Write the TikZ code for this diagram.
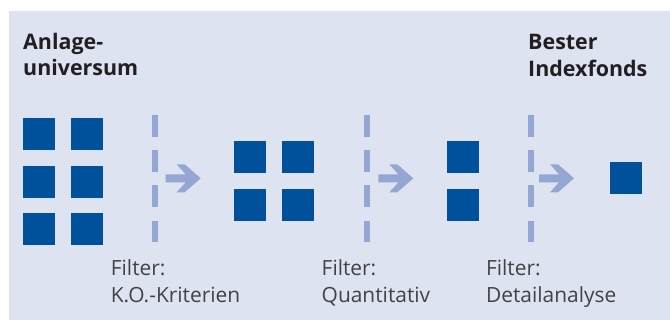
\documentclass[tikz,border=0pt]{standalone}
\usepackage{fontspec}
\setmainfont{Open Sans}
\usetikzlibrary{positioning}
\definecolor{bgblue}{RGB}{222, 227, 241}
\definecolor{boxblue}{RGB}{0, 81, 155}
\definecolor{lightblue}{RGB}{148, 166, 210}
\definecolor{textgray}{RGB}{35, 31, 32}

\tikzset{pics/fwd/.style={code={
  \fill[lightblue] (0,-4) -- (20,-4) -- (11,-14) -- (19,-14) -- (35,0) -- (19,14) -- (11,14) -- (20,4) -- (0,4) -- cycle;}}}

\begin{document}
\begin{tikzpicture}[x=1bp, y=-1bp,
    box/.style={fill=boxblue, minimum size=32bp, inner sep=0pt, outer sep=0pt, anchor=north west},
    filter/.style={draw=lightblue, line width=6bp, dash pattern=on 21.5bp off 13.7bp},
    heading/.style={anchor=base west, align=left, inner sep=0pt, text=textgray, font=\bfseries\fontsize{21.5}{26.5}\selectfont},
    caption/.style={anchor=base west, align=left, inner sep=0pt, text=textgray!85, font=\fontsize{21}{27}\selectfont}]
\useasboundingbox (0,0) rectangle (670,320);
\fill[bgblue] (9,11) rectangle (670,320);

% anchor base = last line
\node[heading] (t1) at (23,75.5) {Anlage-\\universum};
\node[heading] (t2) at (528,76) {Bester\\Indexfonds};

% Anlageuniversum
\node[box] (a1) at (23,118) {};
\node[box, right=16bp of a1] (a2) {};
\node[box, below=15.5bp of a1] (a3) {};
\node[box, right=16bp of a3] (a4) {};
\node[box, below=15.5bp of a3] (a5) {};
\node[box, right=16bp of a5] (a6) {};

% nach K.O.-Kriterien
\node[box] (b1) at (234,141) {};
\node[box, right=16bp of b1] (b2) {};
\node[box, below=16bp of b1] (b3) {};
\node[box, right=16bp of b3] (b4) {};

% nach Quantitativ
\node[box] (c1) at (447,141) {};
\node[box, below=16bp of c1] (c2) {};

% Bester Indexfonds
\node[box] (d1) at (610,162) {};

% Filter
\coordinate (f1t) at (154.7,115); \coordinate (f1b) at (154.7,242);
\coordinate (f2t) at (367.3,115); \coordinate (f2b) at (367.3,242);
\coordinate (f3t) at (530.5,115); \coordinate (f3b) at (530.5,242);
\draw[filter] (f1t) -- (f1b);
\draw[filter] (f2t) -- (f2b);
\draw[filter] (f3t) -- (f3b);

\pic at (165.7,178.3) {fwd};
\pic at (378.3,178.3) {fwd};
\pic at (539,178.3) {fwd};

\node[caption] (k1) at (110.7,302) {Filter:\\K.O.-Kriterien};
\node[caption] (k2) at (321.5,302) {Filter:\\Quantitativ};
\node[caption] (k3) at (485.9,302) {Filter:\\Detailanalyse};
\end{tikzpicture}
\end{document}
